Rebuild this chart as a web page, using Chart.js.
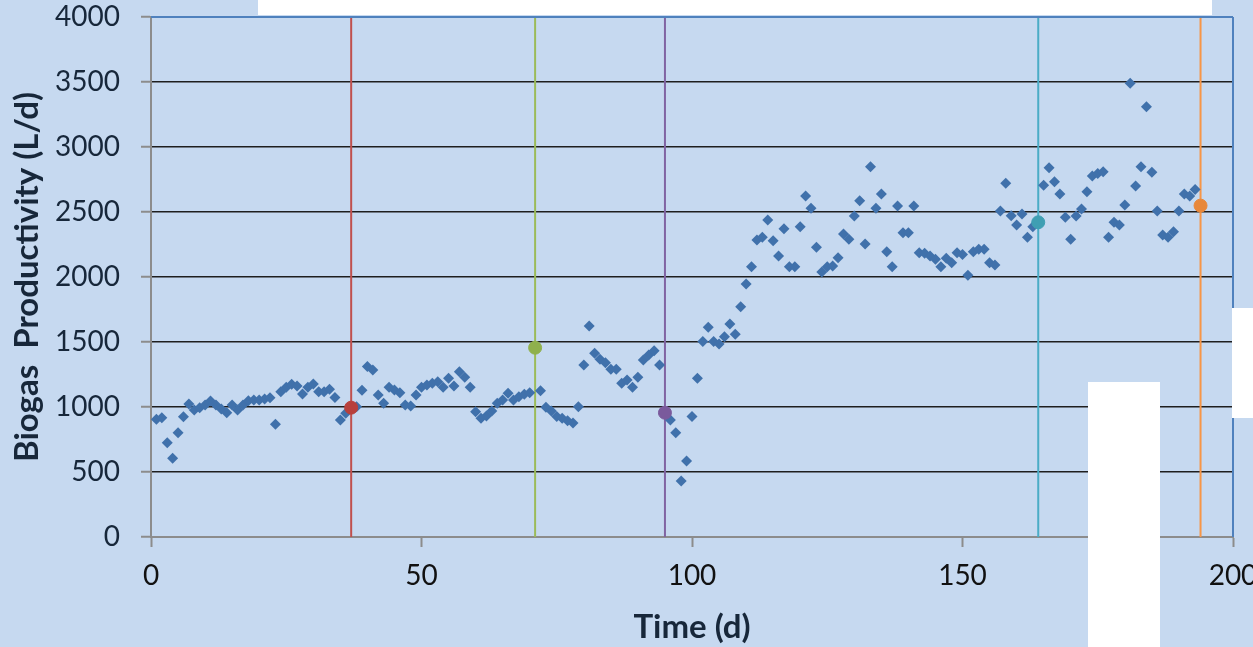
<!DOCTYPE html>
<html>
<head>
<meta charset="utf-8">
<script src="https://cdn.jsdelivr.net/npm/chart.js@4/dist/chart.umd.min.js"></script>
<style>
  html, body { margin: 0; padding: 0; background: #c6d9f0; overflow: hidden; }
  #wrap { position: relative; width: 1290px; height: 647px; }
  .cover { position: absolute; background: #fff; }
</style>
</head>
<body>
<div id="wrap">
  <canvas id="myChart"></canvas>
  <div class="cover" style="left:258px;top:0;width:954px;height:15px"></div>
  <div class="cover" style="left:1232px;top:308px;width:21px;height:110px"></div>
  <div class="cover" style="left:1088px;top:382px;width:72px;height:265px"></div>
</div>
<script>
const ctx = document.getElementById("myChart");

// Biogas productivity (L/d), one value per day starting at day 1
// null = day shown by an event marker instead
const productivity = [
  905, 918, 725, 605, 802, 925, 1023, 977, 995, 1015,
  1046, 1015, 985, 956, 1015, 977, 1015, 1048, 1054, 1054,
  1062, 1072, 867, 1118, 1151, 1175, 1162, 1100, 1151, 1177,
  1118, 1118, 1136, 1074, 900, 951, null, 1002, 1128, 1312,
  1285, 1092, 1028, 1151, 1131, 1110, 1015, 1008, 1092, 1151,
  1169, 1182, 1195, 1151, 1221, 1162, 1272, 1228, 1151, 964,
  913, 931, 969, 1028, 1054, 1105, 1054, 1079, 1098, 1110,
  null, 1125, 998, 969, 926, 913, 895, 876, 1002, 1323,
  1623, 1413, 1367, 1341, 1290, 1290, 1182, 1208, 1151, 1228,
  1362, 1400, 1433, 1323, null, 900, 802, 431, 585, 926,
  1221, 1503, 1613, 1503, 1485, 1541, 1638, 1559, 1772, 1946,
  2079, 2285, 2305, 2438, 2279, 2162, 2372, 2079, 2079, 2387,
  2623, 2528, 2228, 2038, 2079, 2085, 2149, 2331, 2290, 2469,
  2587, 2254, 2849, 2528, 2638, 2195, 2079, 2546, 2341, 2341,
  2546, 2187, 2182, 2162, 2136, 2079, 2144, 2110, 2187, 2174,
  2013, 2195, 2213, 2213, 2110, 2092, 2508, 2721, 2472, 2400,
  2485, 2305, 2387, null, 2705, 2841, 2733, 2638, 2459, 2290,
  2469, 2523, 2656, 2777, 2797, 2810, 2305, 2421, 2400, 2554,
  3490, 2700, 2849, 3310, 2805, 2508, 2323, 2305, 2349, 2508,
  2638, 2623, 2674
];

// event days (vertical lines) and the marked value on each
const eventDays = [37, 71, 95, 164, 194];
const eventValues = [995, 1456, 956, 2421, 2549];
const eventLineColors = ["#c0504d", "#9bbb59", "#8064a2", "#4bacc6", "#f79646"];
const eventMarkerColors = ["#b8403c", "#8fb04c", "#7a5a9c", "#3f9fb3", "#e8883a"];

const xTicks = [0, 50, 100, 150, 200];
const yTicks = [0, 500, 1000, 1500, 2000, 2500, 3000, 3500, 4000];

const points = [];
productivity.forEach((v, i) => {
  if (v !== null) points.push({ x: i + 1, y: v });
});

const datasets = [];

// markers on top
eventDays.forEach((d, i) => {
  datasets.push({
    type: "scatter",
    data: [{ x: d, y: eventValues[i] }],
    backgroundColor: eventMarkerColors[i],
    borderColor: eventMarkerColors[i],
    pointStyle: "circle",
    pointRadius: 6.5,
    pointHoverRadius: 6.5,
  });
});

datasets.push({
  type: "scatter",
  data: points,
  backgroundColor: "#4071ab",
  borderColor: "#4071ab",
  pointStyle: "rectRot",
  pointRadius: 5.5,
  pointHoverRadius: 5.5,
  borderWidth: 0,
});

eventDays.forEach((d, i) => {
  datasets.push({
    type: "line",
    data: [{ x: d, y: 0 }, { x: d, y: 4000 }],
    borderColor: eventLineColors[i],
    borderWidth: 2,
    pointRadius: 0,
    fill: false,
  });
});

// blue frame on top and right of the plot
const frameBorders = {
  id: "frameBorders",
  afterDatasetsDraw(chart) {
    const a = chart.chartArea;
    const c = chart.ctx;
    c.save();
    c.strokeStyle = "#4f81bd";
    c.lineWidth = 2;
    c.beginPath();
    c.moveTo(a.left, a.top);
    c.lineTo(a.right, a.top);
    c.moveTo(a.right, a.top);
    c.lineTo(a.right, a.bottom);
    c.stroke();
    c.restore();
  },
};

Chart.defaults.font.family = "Lato, 'Open Sans', sans-serif";

new Chart(ctx, {
  data: { datasets: datasets },
  plugins: [frameBorders],
  options: {
    responsive: true,
    maintainAspectRatio: false,
    animation: false,
    layout: { padding: { top: 17, right: 57, left: 0, bottom: 0 } },
    plugins: { legend: { display: false }, tooltip: { enabled: false } },
    scales: {
      x: {
        type: "linear",
        min: 0,
        max: 200,
        afterBuildTicks: (s) => { s.ticks = xTicks.map((v) => ({ value: v })); },
        afterFit: (s) => { s.height = 110; s.paddingLeft = 0; s.paddingRight = 0; },
        ticks: { color: "#111", font: { size: 28 }, padding: 12, callback: (v) => String(v) },
        grid: { drawOnChartArea: false, tickLength: 10, tickColor: "#8c8c8c", tickWidth: 2 },
        border: { color: "#8c8c8c", width: 2 },
        title: {
          display: true,
          text: "Time (d)",
          color: "#17273a",
          font: { size: 33, weight: "bold" },
          padding: { top: 0, bottom: 0 },
        },
      },
      y: {
        type: "linear",
        min: 0,
        max: 4000,
        afterBuildTicks: (s) => { s.ticks = yTicks.map((v) => ({ value: v })); },
        afterFit: (s) => { s.width = 151; s.paddingTop = 0; s.paddingBottom = 0; },
        ticks: { color: "#17273a", font: { size: 28 }, padding: 21, callback: (v) => String(v) },
        grid: {
          color: (c) => (c.tick && (c.tick.value === 0 || c.tick.value === 4000) ? "rgba(0,0,0,0)" : "#1e1e1e"),
          lineWidth: 1.5,
          tickLength: 10,
          tickColor: "#8c8c8c",
          tickWidth: 2,
        },
        border: { color: "#8c8c8c", width: 2 },
        title: {
          display: true,
          text: "Biogas  Productivity (L/d)",
          color: "#17273a",
          font: { size: 33, weight: "bold" },
          padding: { top: 8, bottom: 0 },
        },
      },
    },
  },
});
</script>
</body>
</html>
